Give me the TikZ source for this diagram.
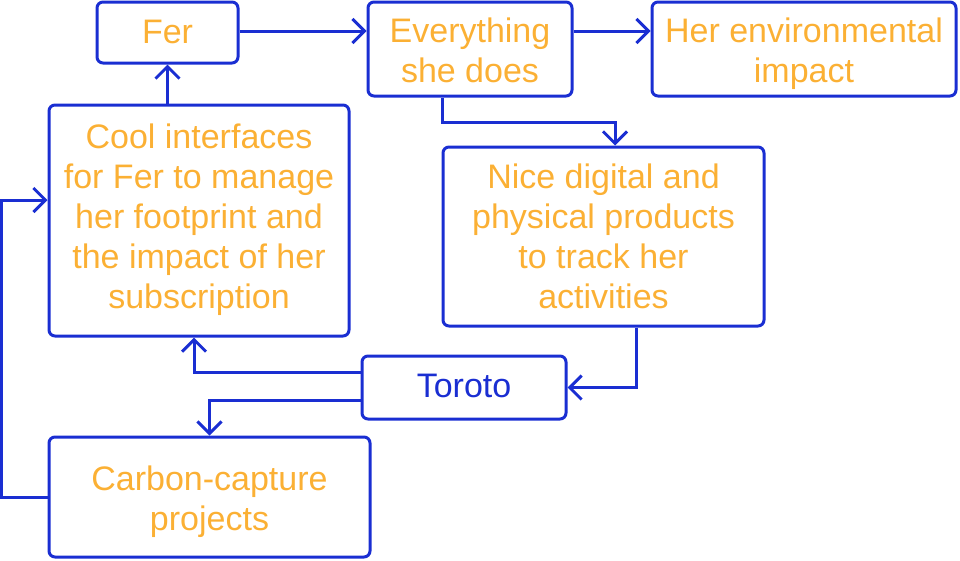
\documentclass[tikz,border=0pt]{standalone}
\usepackage{fontspec}
\setmainfont{Liberation Sans}
\usepackage{tikz}
\usetikzlibrary{arrows.meta}

\definecolor{LineBlue}{HTML}{1A2ED2}
\definecolor{TextOrange}{HTML}{FBB034}

\tikzset{
	box/.style={draw=LineBlue, line width=3pt, rounded corners=6pt, inner sep=0pt,
		align=center, text=TextOrange, font=\fontsize{34}{40}\selectfont},
	% last baseline sits #1/2 below the centre of the box
	lastbase/.style={text depth=0pt, text height=#1},
	link/.style={draw=LineBlue, line width=3pt,
		-{Straight Barb[length=12pt,width=24pt,line width=3pt]}},
}

\begin{document}
\begin{tikzpicture}[x=1pt, y=-1pt]

	\useasboundingbox (0,0) rectangle (960,560);

	% the boxes, placed at their centres
	\node[box, lastbase=21pt,  minimum width=141pt, minimum height=61pt]  (Fer)    at (167.5,32.5) {Fer};
	\node[box, lastbase=66pt,  minimum width=204pt, minimum height=94pt]  (Does)   at (470,49)     {Everything\\she does};
	\node[box, lastbase=66pt,  minimum width=304pt, minimum height=94pt]  (Impact) at (804,49)     {Her environmental\\impact};
	\node[box, lastbase=176pt, minimum width=300pt, minimum height=231pt] (Cool)   at (199,220.5)  {Cool interfaces\\for Fer to manage\\her footprint and\\the impact of her\\subscription};
	\node[box, lastbase=144pt, minimum width=321pt, minimum height=179pt] (Nice)   at (603.5,236.5) {Nice digital and\\physical products\\to track her\\activities};
	\node[box, lastbase=20.5pt, minimum width=204pt, minimum height=63pt, text=LineBlue] (Toroto) at (464,387.5) {Toroto};
	\node[box, lastbase=66pt,  minimum width=321pt, minimum height=120pt] (Carbon) at (209.5,497)  {Carbon-capture\\projects};

	% connectors
	\draw[link] ([yshift=1.5pt]Fer.east) -- ([yshift=18pt]Does.west);
	\draw[link] ([yshift=18pt]Does.east) -- ([yshift=18pt]Impact.west);
	\draw[link] (Cool.north -| Fer.south) -- (Fer.south);
	\draw[link] ([xshift=-28pt]Does.south) -- ++(0,25) -| ([xshift=11.5pt]Nice.north);
	\draw[link] ([xshift=32.5pt]Nice.south) |- (Toroto.east);
	\draw[link] ([yshift=15pt]Toroto.west) -| ([xshift=-5pt]Cool.south);
	\draw[link] ([yshift=-13pt]Toroto.west) -| (Carbon.north);
	\draw[link] (Carbon.west) -- ++(-46,0) |- ([yshift=20.5pt]Cool.west);

\end{tikzpicture}
\end{document}
